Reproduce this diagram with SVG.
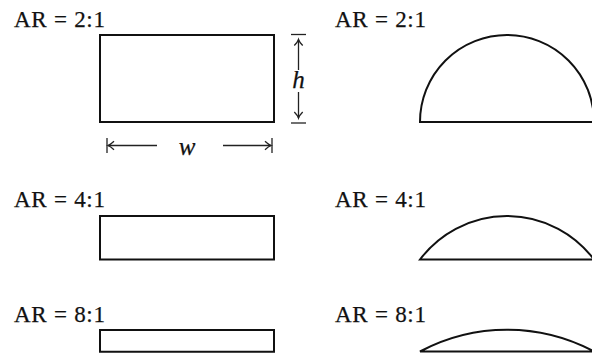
<svg xmlns="http://www.w3.org/2000/svg" width="592" height="355" viewBox="0 0 592 355">
  <style>
    .lbl { font-family: "Liberation Serif", "Times New Roman", serif; font-size: 23px; fill: #111; stroke: #111; stroke-width: 0.25; }
    .math { font-family: "Liberation Serif", "Times New Roman", serif; font-style: italic; font-size: 25px; fill: #111; stroke: #111; stroke-width: 0.25; }
    .shape { fill: #fff; stroke: #111; stroke-width: 2; stroke-linejoin: miter; }
    .dim { fill: none; stroke: #222; stroke-width: 1.3; }
  </style>
  <defs>
    <marker id="head" markerUnits="userSpaceOnUse" markerWidth="14" markerHeight="14" viewBox="-9 -7 11 14" refX="0" refY="0" orient="auto-start-reverse">
      <path d="M -6 -4.2 Q -2.5 -0.8 0 0 Q -2.5 0.8 -6 4.2" fill="none" stroke="#222" stroke-width="1.3"/>
    </marker>
  </defs>
  <rect width="592" height="355" fill="#fff"/>

  <g id="rect-2-1">
    <text class="lbl" x="14" y="27" textLength="91" lengthAdjust="spacing">AR = 2:1</text>
    <rect class="shape" x="100" y="35" width="174" height="87"/>
  </g>
  <g id="semi-2-1">
    <text class="lbl" x="335" y="27" textLength="91" lengthAdjust="spacing">AR = 2:1</text>
    <path class="shape" d="M 420 122 A 87 87 0 0 1 594 122 Z"/>
  </g>

  <g id="rect-4-1">
    <text class="lbl" x="14" y="207" textLength="91" lengthAdjust="spacing">AR = 4:1</text>
    <rect class="shape" x="100" y="216" width="174" height="43.5"/>
  </g>
  <g id="semi-4-1">
    <text class="lbl" x="335" y="207" textLength="91" lengthAdjust="spacing">AR = 4:1</text>
    <path class="shape" d="M 420 259.5 A 108.75 108.75 0 0 1 594 259.5 Z"/>
  </g>

  <g id="rect-8-1">
    <text class="lbl" x="14" y="322" textLength="91" lengthAdjust="spacing">AR = 8:1</text>
    <rect class="shape" x="100" y="330" width="174" height="21.75"/>
  </g>
  <g id="semi-8-1">
    <text class="lbl" x="335" y="322" textLength="91" lengthAdjust="spacing">AR = 8:1</text>
    <path class="shape" d="M 420 351.5 A 184.9 184.9 0 0 1 594 351.5 Z"/>
  </g>

  <g id="connectors">
    <!-- height dimension -->
    <line class="dim" x1="291" y1="34.5" x2="306" y2="34.5"/>
    <line class="dim" x1="291" y1="123" x2="306" y2="123"/>
    <line class="dim" x1="298.5" y1="70" x2="298.5" y2="39.5" marker-end="url(#head)"/>
    <line class="dim" x1="298.5" y1="92" x2="298.5" y2="118" marker-end="url(#head)"/>
    <text class="math" x="298.5" y="88" text-anchor="middle">h</text>
    <!-- width dimension -->
    <line class="dim" x1="107" y1="138" x2="107" y2="153"/>
    <line class="dim" x1="272" y1="138" x2="272" y2="153"/>
    <line class="dim" x1="157" y1="145.5" x2="108" y2="145.5" marker-end="url(#head)"/>
    <line class="dim" x1="223" y1="145.5" x2="271" y2="145.5" marker-end="url(#head)"/>
    <text class="math" x="187" y="155" text-anchor="middle">w</text>
  </g>
</svg>
